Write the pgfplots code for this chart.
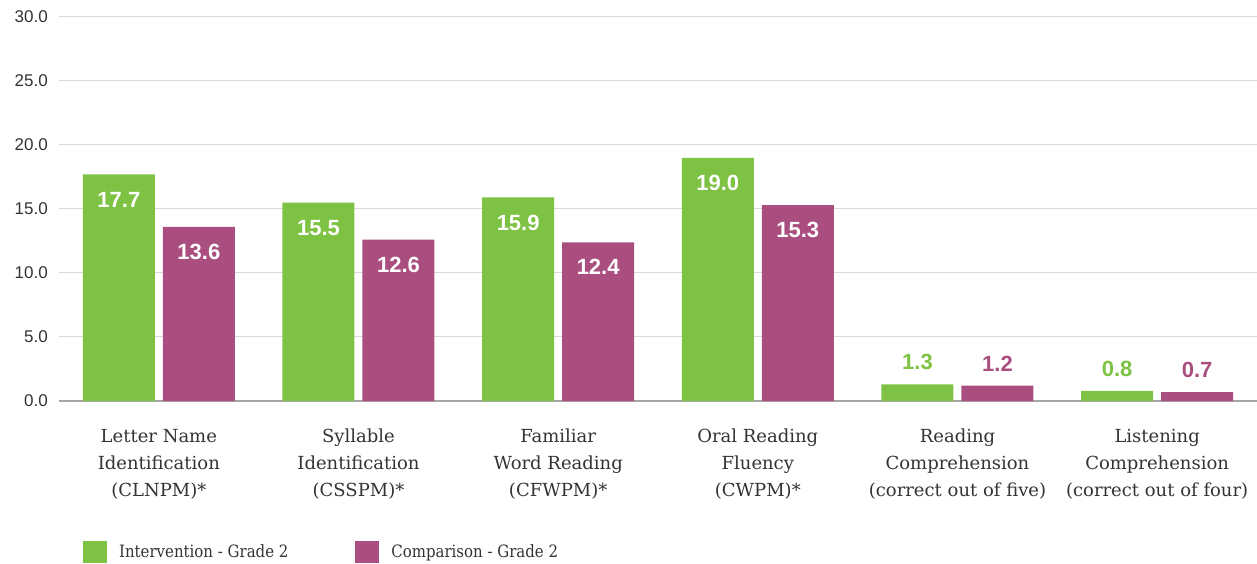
\documentclass[border=0pt]{standalone}
\usepackage{fontspec}
\setmainfont{DejaVu Serif}
\newfontfamily\legfont{DejaVu Serif}[FakeStretch=0.88]
\newfontfamily\numfont{Liberation Sans}
\usepackage{pgfplots}
\pgfplotsset{compat=1.18}
\definecolor{intgreen}{HTML}{7DC242}
\definecolor{cmpmag}{HTML}{AA4E80}
\definecolor{gridgray}{HTML}{D9D9D9}
\definecolor{basegray}{HTML}{A6A6A6}
\definecolor{txt}{HTML}{333333}

\pgfplotsset{
  sq legend/.style={legend image code/.code={\path[##1, draw=none] (0pt,-11pt) rectangle (24pt,11pt);}},
  inlabel/.style={nodes near coords, nodes near coords style={anchor=center, yshift=-25pt, text=white,
      font=\numfont\bfseries\fontsize{22}{22}\selectfont}},
  outlabel/.style={nodes near coords, nodes near coords style={anchor=center, yshift=22pt, text=#1,
      font=\numfont\bfseries\fontsize{22}{22}\selectfont}},
}

\begin{document}
\begin{tikzpicture}[x=1pt,y=1pt]
\begin{axis}[
  at={(0,0)}, anchor=south west,
  width=1198pt, height=384pt, scale only axis,
  xmin=-0.5, xmax=5.5, ymin=0, ymax=30,
  ybar, bar width=72pt,
  axis line style={draw=none},
  major tick length=0pt,
  ytick={0,5,...,30},
  ymajorgrids, grid style={gridgray, line width=1pt},
  extra y ticks={0}, extra y tick labels={},
  extra y tick style={grid style={basegray, line width=2pt}},
  /pgf/number format/.cd, fixed, fixed zerofill, precision=1, assume math mode=true, /pgfplots/.cd,
  yticklabel style={font=\numfont\fontsize{17}{17}\selectfont, text=txt, anchor=east, inner sep=0pt, xshift=-11pt},
  xtick={0,1,2,3,4,5},
  xticklabels={
    {Letter Name\\Identification\\(CLNPM)*},
    {Syllable\\Identification\\(CSSPM)*},
    {Familiar\\Word Reading\\(CFWPM)*},
    {Oral Reading\\Fluency\\(CWPM)*},
    {Reading\\Comprehension\\(correct out of five)},
    {Listening\\Comprehension\\(correct out of four)}},
  xticklabel style={font=\fontsize{18}{27}\selectfont, text=txt, align=center, anchor=north, inner sep=0pt, yshift=-28pt},
  point meta=explicit symbolic,
  legend columns=2,
  legend cell align=left,
  legend style={at={(0.02,-0.393)}, anchor=west, draw=none, fill=none, inner sep=0pt,
    font=\legfont\fontsize{17}{17}\selectfont, text=txt,
    /tikz/every even column/.append style={column sep=65pt},
    /tikz/every odd column/.append style={column sep=10pt}},
]
% Intervention - Grade 2, large scores: labels inside the bars
\addplot[fill=intgreen, draw=none, bar shift=-40pt, sq legend, inlabel]
  coordinates {(0,17.7) [17.7] (1,15.5) [15.5] (2,15.9) [15.9] (3,19.0) [19.0]};
\addlegendentry{Intervention - Grade 2}
% Comparison - Grade 2, large scores
\addplot[fill=cmpmag, draw=none, bar shift=40pt, sq legend, inlabel]
  coordinates {(0,13.6) [13.6] (1,12.6) [12.6] (2,12.4) [12.4] (3,15.3) [15.3]};
\addlegendentry{Comparison - Grade 2}
% Comprehension scores: labels above the bars
\addplot[fill=intgreen, draw=none, bar shift=-40pt, forget plot, outlabel=intgreen]
  coordinates {(4,1.3) [1.3] (5,0.8) [0.8]};
\addplot[fill=cmpmag, draw=none, bar shift=40pt, forget plot, outlabel=cmpmag]
  coordinates {(4,1.2) [1.2] (5,0.7) [0.7]};
\end{axis}
\pgfresetboundingbox
\path[use as bounding box] (-59pt,-163pt) rectangle (1198pt,401pt);
\end{tikzpicture}
\end{document}
